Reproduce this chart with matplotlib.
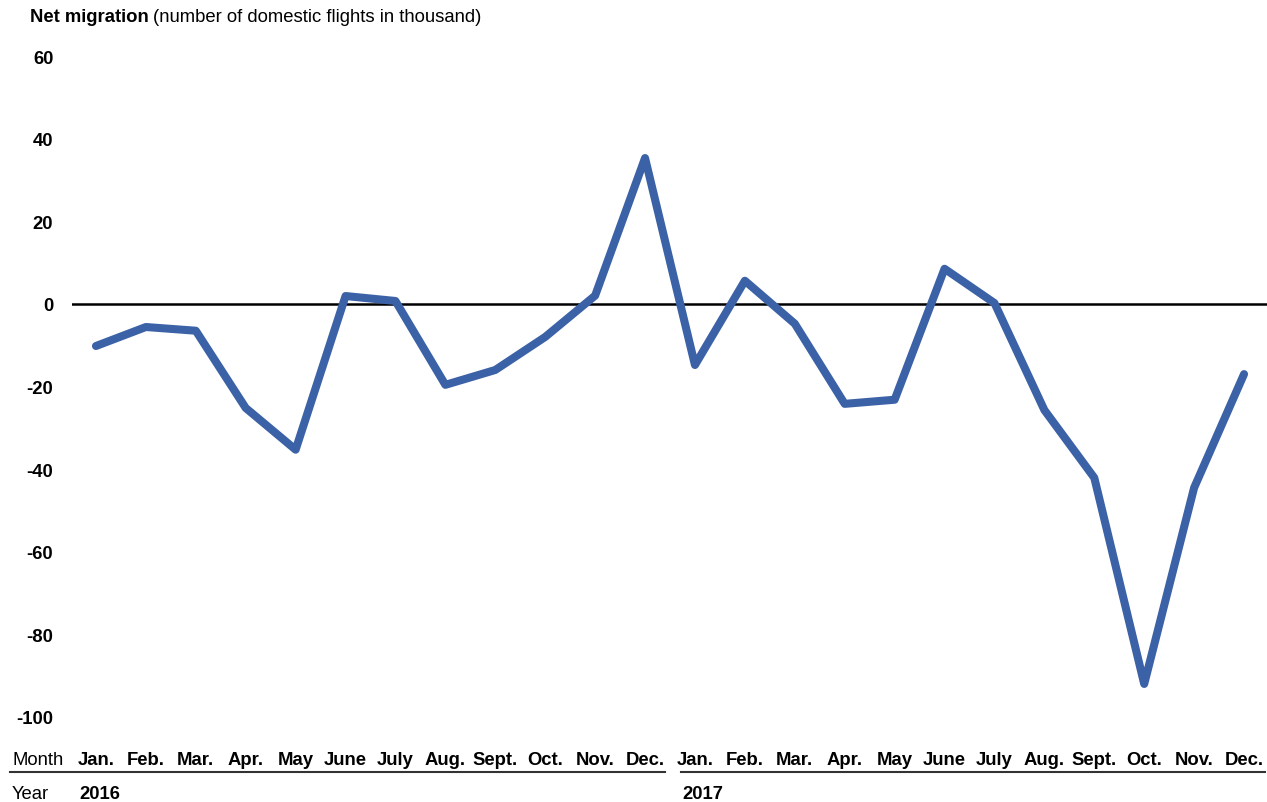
import matplotlib.pyplot as plt
import matplotlib.transforms as mtransforms

plt.rcParams['font.family'] = ['Liberation Sans', 'DejaVu Sans']

months = ["Jan.", "Feb.", "Mar.", "Apr.", "May", "June", "July", "Aug.",
          "Sept.", "Oct.", "Nov.", "Dec."]
years = ["2016", "2017"]
net_2016 = [-10.2, -5.6, -6.5, -25.2, -35.3, 1.9, 0.7, -19.6, -16.0, -8.0, 2.0, 35.3]
net_2017 = [-14.8, 5.6, -4.8, -24.2, -23.2, 8.5, 0.2, -25.7, -42.1, -92.0, -44.5, -17.0]
yticks = [60, 40, 20, 0, -20, -40, -60, -80, -100]

values = net_2016 + net_2017
x = list(range(len(values)))

W, H = 1267, 803
FS = 13.3
fig = plt.figure(figsize=(W / 100, H / 100), dpi=100)
ax = fig.add_axes([72 / W, (H - 718) / H, (W - 72) / W, (718 - 57) / H])

ax.axhline(0, color="black", lw=1.8, zorder=1)
ax.plot(x, values, color="#3b62a6", lw=5.8, solid_joinstyle="round",
        solid_capstyle="round", zorder=2)

ax.set_xlim(-0.48, 23.46)
ax.set_ylim(-100, 60)
ax.set_yticks(yticks)
ax.set_yticklabels([str(v) for v in yticks], fontsize=FS, fontweight="bold")
ax.tick_params(axis="y", length=0, pad=13.5)
ax.set_xticks([])
for s in ax.spines.values():
    s.set_visible(False)

# month / year rows under the plot
trans = mtransforms.blended_transform_factory(ax.transData, fig.transFigure)
for i, m in enumerate(months * 2):
    ax.text(i, 1 - 761 / H, m, transform=trans, ha="center", va="center",
            fontsize=FS, fontweight="bold")
fig.text(12 / W, 1 - 761 / H, "Month", ha="left", va="center", fontsize=FS)
fig.text(12 / W, 1 - 795 / H, "Year", ha="left", va="center", fontsize=FS)
fig.text(79 / W, 1 - 795 / H, years[0], ha="left", va="center", fontsize=FS, fontweight="bold")
fig.text(682 / W, 1 - 795 / H, years[1], ha="left", va="center", fontsize=FS, fontweight="bold")

fig.add_artist(plt.Line2D([10 / W, 665 / W], [1 - 773 / H] * 2, color="#333333", lw=1.5))
fig.add_artist(plt.Line2D([681 / W, 1265 / W], [1 - 773 / H] * 2, color="#333333", lw=1.5))

# title: bold part + normal part
t1 = fig.text(30 / W, 1 - 17 / H, "Net migration", ha="left", va="center",
              fontsize=FS, fontweight="bold")
fig.canvas.draw()
bb = t1.get_window_extent()
fig.text((bb.x1 + 4) / W, 1 - 17 / H, "(number of domestic flights in thousand)",
         ha="left", va="center", fontsize=FS)

fig.savefig("out.png", dpi=100)
